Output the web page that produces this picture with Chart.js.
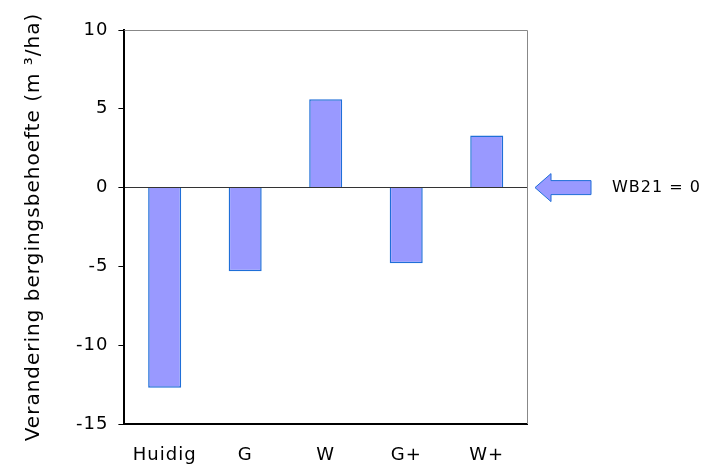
<!DOCTYPE html>
<html>
<head>
<meta charset="utf-8">
<script src="https://cdn.jsdelivr.net/npm/chart.js@4"></script>
<style>
  html, body { margin: 0; padding: 0; background: #fff; }
  #wrap { width: 705px; height: 466px; }
</style>
</head>
<body>
<div id="wrap"><canvas id="graphique"></canvas></div>
<script>
// categories en waarden
const labels = ["Huidig", "G", "W", "G+", "W+"];
const waarden = [-12.7, -5.3, 5.6, -4.8, 3.3];
const yTicks = [-15, -10, -5, 0, 5, 10];
const pijlTekst = "WB21 = 0";

// iets ruimere letters, zoals in het origineel
const spatiePlugin = {
  id: "spatie",
  beforeLayout(chart) { chart.ctx.letterSpacing = "1px"; },
  beforeDraw(chart) { chart.ctx.letterSpacing = "1px"; }
};

// kader rond het plotgebied + pijl met tekst rechts
const kaderPlugin = {
  id: "kader",
  afterDraw(chart) {
    const ctx = chart.ctx;
    const a = chart.chartArea;
    ctx.save();
    ctx.strokeStyle = "#888";
    ctx.lineWidth = 1;
    ctx.beginPath();
    ctx.moveTo(a.left, a.top + 0.5);
    ctx.lineTo(a.right + 0.5, a.top + 0.5);
    ctx.lineTo(a.right + 0.5, a.bottom);
    ctx.stroke();

    // pijl op hoogte van nul
    const y0 = chart.scales.y.getPixelForValue(0);
    const tip = a.right + 8;
    ctx.fillStyle = "#9999ff";
    ctx.strokeStyle = "#1f6fd8";
    ctx.lineWidth = 1;
    ctx.beginPath();
    ctx.moveTo(tip, y0);
    ctx.lineTo(tip + 16, y0 - 14);
    ctx.lineTo(tip + 16, y0 - 7);
    ctx.lineTo(tip + 56, y0 - 7);
    ctx.lineTo(tip + 56, y0 + 7);
    ctx.lineTo(tip + 16, y0 + 7);
    ctx.lineTo(tip + 16, y0 + 14);
    ctx.closePath();
    ctx.fill();
    ctx.stroke();

    ctx.fillStyle = "#000";
    ctx.font = "16px 'DejaVu Sans'";
    ctx.textBaseline = "middle";
    ctx.fillText(pijlTekst, tip + 77, y0);
    ctx.restore();
  }
};

const data = {
  labels: labels,
  datasets: [{
    data: waarden,
    backgroundColor: "#9999ff",
    borderColor: "#1f6fd8",
    borderWidth: 1.5,
    barPercentage: 0.41,
    categoryPercentage: 1.0
  }]
};

const config = {
  type: "bar",
  data: data,
  plugins: [spatiePlugin, kaderPlugin],
  options: {
    responsive: true,
    maintainAspectRatio: false,
    animation: false,
    layout: { padding: { top: 30, right: 178, bottom: 0, left: 18 } },
    plugins: {
      legend: { display: false },
      tooltip: { enabled: false }
    },
    scales: {
      x: {
        afterFit(scale) { scale.height = 42; },
        grid: { display: true, color: "transparent", drawTicks: false },
        border: { display: true, color: "#000", width: 2 },
        ticks: { color: "#000", font: { family: "DejaVu Sans", size: 18 }, padding: 21 }
      },
      y: {
        min: -15,
        max: 10,
        afterBuildTicks(scale) {
          scale.ticks = yTicks.map(v => ({ value: v }));
        },
        grid: {
          color: ctx => (ctx.tick && ctx.tick.value === 0 ? "#333" : "transparent"),
          tickColor: "#000",
          tickLength: 6,
          lineWidth: 1
        },
        border: { display: true, color: "#000", width: 2 },
        ticks: { color: "#000", font: { family: "DejaVu Sans", size: 18 }, padding: 10 },
        title: {
          display: true,
          text: "Verandering bergingsbehoefte (m ³/ha)",
          color: "#000",
          font: { family: "DejaVu Sans", size: 20 },
          padding: { bottom: 20 }
        }
      }
    }
  }
};

const graphique = new Chart(document.querySelector("#graphique"), config);
</script>
</body>
</html>
